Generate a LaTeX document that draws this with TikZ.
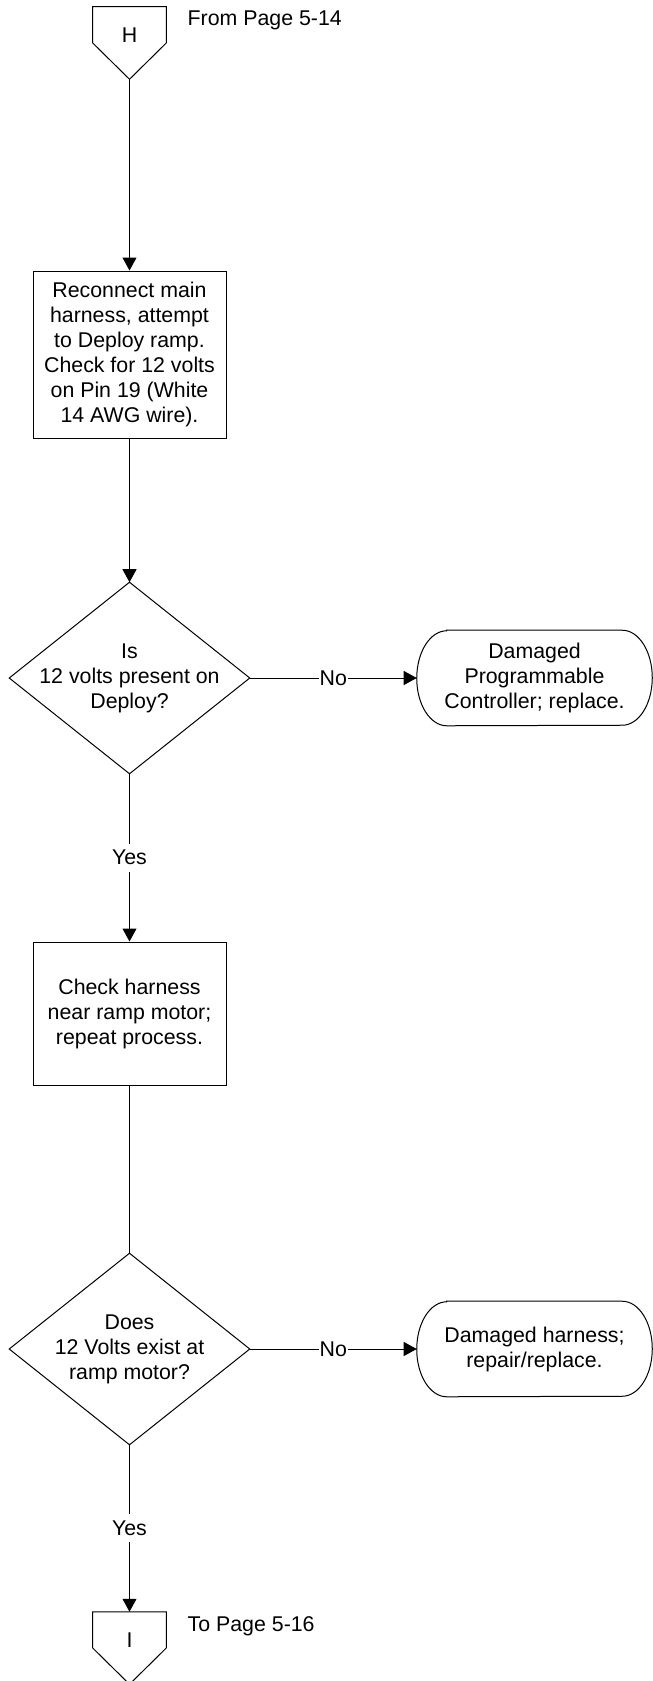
\documentclass[tikz,border=0pt]{standalone}
\usepackage{fontspec}
\setmainfont{Liberation Sans}
\usetikzlibrary{arrows.meta}
\begin{document}
\begin{tikzpicture}[x=0.75pt,y=-0.75pt,
  every node/.style={font=\fontsize{16pt}{18.75pt}\selectfont},
  flow/.style={line width=0.75pt, draw=black},
  arr/.style={flow, -{Triangle[length=9.75pt,width=10.5pt]}},
  area/.style={rectangle, inner sep=0pt, align=center},
  stepbox/.style={area, draw, line width=0.75pt},
  lbl/.style={fill=white, inner xsep=0.5pt, inner ysep=5pt},
]
\useasboundingbox (0,0) rectangle (653,1681);

% off-page connector at the top
\node[area, minimum width={73*0.75pt}, minimum height={72*0.75pt}] (H) at (129.5,43) {};
\draw[flow] (H.north west) -- (H.north east) -- (H.east) -- (H.south) -- (H.west) -- cycle;
\node[anchor=base] (Hname) at (129.5,42) {H};
\node[anchor=base west] (Hnote) at (183,26) {From Page 5-14};

% first process step
\node[stepbox, minimum width={193*0.75pt}, minimum height={167*0.75pt}] (box1) at (129.5,354.5)
  {Reconnect main\\harness, attempt\\to Deploy ramp.\\Check for 12 volts\\on Pin 19 (White\\14 AWG wire).};

% first decision
\node[area, minimum width={240*0.75pt}, minimum height={191*0.75pt}] (dia1) at (129.5,678)
  {Is\\12 volts present on\\Deploy?};
\draw[flow] (dia1.north) -- (dia1.east) -- (dia1.south) -- (dia1.west) -- cycle;

% first terminal
\node[area, minimum width={235*0.75pt}, minimum height={95*0.75pt}] (term1) at (534.5,678)
  {Damaged\\Programmable\\Controller; replace.};
\draw[flow] ([xshift=22.5pt]term1.north west) -- ([xshift=-22.5pt]term1.north east)
  arc[start angle=90, end angle=-90, x radius=22.5pt, y radius=35.625pt]
  -- ([xshift=22.5pt]term1.south west)
  arc[start angle=270, end angle=90, x radius=22.5pt, y radius=35.625pt] -- cycle;

% second process step
\node[stepbox, minimum width={193*0.75pt}, minimum height={143*0.75pt}] (box2) at (129.5,1013.5)
  {Check harness\\near ramp motor;\\repeat process.};

% second decision
\node[area, minimum width={240*0.75pt}, minimum height={191*0.75pt}] (dia2) at (129.5,1349)
  {Does\\12 Volts exist at\\ramp motor?};
\draw[flow] (dia2.north) -- (dia2.east) -- (dia2.south) -- (dia2.west) -- cycle;

% second terminal
\node[area, minimum width={235*0.75pt}, minimum height={95*0.75pt}] (term2) at (534.5,1349)
  {Damaged harness;\\repair/replace.};
\draw[flow] ([xshift=22.5pt]term2.north west) -- ([xshift=-22.5pt]term2.north east)
  arc[start angle=90, end angle=-90, x radius=22.5pt, y radius=35.625pt]
  -- ([xshift=22.5pt]term2.south west)
  arc[start angle=270, end angle=90, x radius=22.5pt, y radius=35.625pt] -- cycle;

% off-page connector at the bottom
\node[area, minimum width={73*0.75pt}, minimum height={72*0.75pt}] (I) at (129.5,1648) {};
\draw[flow] (I.north west) -- (I.north east) -- (I.east) -- (I.south) -- (I.west) -- cycle;
\node[anchor=base] (Iname) at (129.5,1647) {I};
\node[anchor=base west] (Inote) at (183,1631) {To Page 5-16};

% connectors
\draw[arr] (H.south) -- (box1.north);
\draw[arr] (box1.south) -- (dia1.north);
\draw[arr] (dia1.east) -- node[lbl] (no1) {No} (term1.west);
\draw[arr] (dia1.south) -- node[lbl] (yes1) {Yes} (box2.north);
\draw[flow] (box2.south) -- (dia2.north);
\draw[arr] (dia2.east) -- node[lbl] (no2) {No} (term2.west);
\draw[arr] (dia2.south) -- node[lbl] (yes2) {Yes} (I.north);
\end{tikzpicture}
\end{document}
